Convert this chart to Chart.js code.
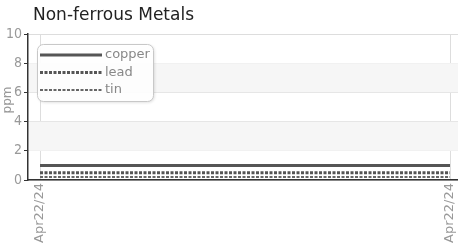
<!DOCTYPE html>
<html><head><meta charset="utf-8">
<script src="https://cdn.jsdelivr.net/npm/chart.js@4"></script>
<style>html,body{margin:0;padding:0;background:#fff}#w{width:458px;height:243px;position:relative}</style>
</head><body><div id="w"><canvas id="c"></canvas></div>
<script>
const chartTitle = 'Non-ferrous Metals';
const yTitle = 'ppm';
const categories = ['Apr22/24', 'Apr22/24'];
const seriesNames = ['copper', 'lead', 'tin'];
const copper = [1, 1];
const lead = [0.5, 0.5];
const tin = [0.2, 0.2];
const yTicks = [0, 2, 4, 6, 8, 10];

const NARROW = "'DejaVu Sans','Roboto',sans-serif";
const styles = [
  {color:'#555', width:3, dash:[]},
  {color:'#555', width:3, dash:[3,1.5]},
  {color:'#666', width:2, dash:[3,1.5]}
];
const seriesData = [copper, lead, tin];

const datasets = seriesNames.map((n,i)=>({
  label:n,
  data: seriesData[i].map((v,j)=>({x:j, y:v})),
  borderColor: styles[i].color,
  borderWidth: styles[i].width,
  borderDash: styles[i].dash,
  pointRadius:0,
  fill:false
}));

const decor = {
  id:'decor',
  beforeDraw(chart){
    try { chart.ctx.fontStretch = 'condensed'; } catch(e){}
  },
  beforeDatasetsDraw(chart){
    const {ctx, chartArea:a, scales:{y}} = chart;
    ctx.save();
    ctx.fillStyle = '#f6f6f6';
    [[2,4],[6,8]].forEach(([lo,hi])=>{
      const t = y.getPixelForValue(hi), b = y.getPixelForValue(lo);
      ctx.fillRect(a.left+1, t, a.right-a.left, b-t);
    });
    ctx.restore();
  },
  afterDraw(chart){
    const ctx = chart.ctx;
    ctx.save();
    // title
    ctx.fontStretch = 'normal';
    ctx.fillStyle = '#222';
    ctx.font = "17px 'DejaVu Sans', sans-serif";
    ctx.textBaseline = 'alphabetic';
    ctx.textAlign = 'left';
    ctx.fillText(chartTitle, 33, 20);
    ctx.fontStretch = 'condensed';
    // legend
    const bx=37, by=44, bw=116, bh=57, r=6;
    ctx.shadowColor='rgba(0,0,0,0.15)';
    ctx.shadowBlur=3; ctx.shadowOffsetX=1; ctx.shadowOffsetY=1;
    ctx.beginPath();
    ctx.roundRect(bx+0.5, by+0.5, bw, bh, r);
    ctx.fillStyle='rgba(255,255,255,0.95)';
    ctx.fill();
    ctx.shadowColor='transparent';
    ctx.strokeStyle='#c8c8c8'; ctx.lineWidth=1;
    ctx.stroke();
    chart.data.datasets.forEach((ds,i)=>{
      const yy = by + 11 + i*17.5;
      ctx.beginPath();
      ctx.setLineDash(ds.borderDash);
      ctx.lineWidth = ds.borderWidth;
      ctx.strokeStyle = ds.borderColor;
      ctx.moveTo(40, yy); ctx.lineTo(102, yy);
      ctx.stroke();
      ctx.setLineDash([]);
      ctx.fillStyle='#888';
      ctx.font = "13px " + NARROW;
      ctx.textBaseline='middle';
      ctx.fillText(ds.label, 105, yy);
    });
    // y title
    ctx.translate(8, 100);
    ctx.rotate(-Math.PI/2);
    ctx.fillStyle='#999';
    ctx.font = "12px " + NARROW;
    ctx.textAlign='center'; ctx.textBaseline='middle';
    ctx.fillText(yTitle, 0, 0);
    ctx.restore();
  }
};

new Chart(document.getElementById('c'), {
  type:'line',
  data:{datasets},
  plugins:[decor],
  options:{
    responsive:true, maintainAspectRatio:false, animation:false,
    layout:{padding:{top:34, left:0, right:0, bottom:0}},
    plugins:{legend:{display:false}, title:{display:false}, tooltip:{enabled:false}},
    scales:{
      x:{
        type:'linear', min:-0.0293, max:1.0195,
        afterBuildTicks(s){ s.ticks = categories.map((c,i)=>({value:i})); },
        afterFit(s){ s.height = 63; s.paddingLeft = 0; s.paddingRight = 0; },
        ticks:{
          callback:(v,i)=>categories[i],
          minRotation:90, maxRotation:90, autoSkip:false,
          color:'#999', padding:3,
          font:{family:NARROW, size:13}
        },
        grid:{color:'#ddd', lineWidth:1, borderDash:[5,3], drawTicks:false, tickLength:0},
        border:{display:true, color:'#333', width:1.5}
      },
      y:{
        min:0, max:10,
        afterBuildTicks(s){ s.ticks = yTicks.map(v=>({value:v})); },
        afterFit(s){ s.width = 28; s.paddingTop = 0; s.paddingBottom = 0; },
        ticks:{color:'#999', padding:2, font:{family:NARROW, size:14}},
        grid:{color:'#ddd', lineWidth:1, borderDash:[5,3], tickBorderDash:[], tickColor:'#333', tickLength:4, tickWidth:1},
        border:{display:true, color:'#333', width:1.5}
      }
    }
  }
});
</script></body></html>
